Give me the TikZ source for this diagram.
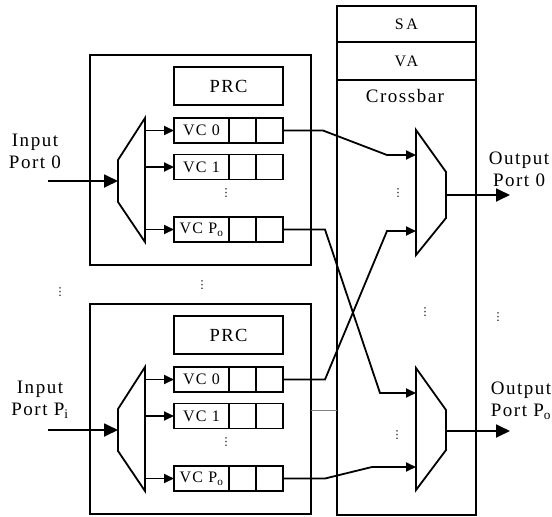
\documentclass[tikz,border=0pt]{standalone}
\usepackage{fontspec}
\setmainfont[LetterSpace=8]{Liberation Serif}
\newfontfamily\dotsfont{DejaVu Sans}
\newfontfamily\stagefont[LetterSpace=16]{Liberation Serif}
\usetikzlibrary{arrows.meta,positioning}

\begin{document}
\begin{tikzpicture}[x=1pt,y=-1pt]
		\tikzstyle{box}=[draw, line width=1.8pt, outer sep=0pt, inner sep=0pt]
		\tikzstyle{router}=[box, minimum width=221pt, minimum height=210pt]
		\tikzstyle{prc}=[box, minimum width=109pt, minimum height=38pt, font=\fontsize{18.5}{20}\selectfont]
		\tikzstyle{vc}=[box, minimum width=55pt, minimum height=25pt, font=\fontsize{16}{17}\selectfont]
		\tikzstyle{cell}=[box, minimum width=27pt, minimum height=25pt]
		\tikzstyle{stage}=[box, minimum width=139pt, font=\stagefont\fontsize{16}{17}\selectfont]
		\tikzstyle{mux}=[line width=1.8pt, line join=miter]
		\tikzstyle{link}=[line width=1.8pt, -{Triangle[length=14pt,width=13pt]}]
		\tikzstyle{wire}=[line width=1.8pt, -{Triangle[length=10pt,width=9pt]}]
		\tikzstyle{port_text}=[align=center, font=\fontsize{19}{22}\selectfont]
		\tikzstyle{dots}=[inner sep=0pt, font=\dotsfont\fontsize{11}{11}\selectfont]

		\useasboundingbox (0,0) rectangle (552,517);

		% input routers
		\foreach \r/\dy/\port/\px in {t/0/0/35, b/249/{P\textsubscript{i}}/40} {
			\begin{scope}[yshift=-\dy pt]
				\node [router] (\r rtr) at (200.5,160) {};
				\node [prc] (\r prc) at (228.5,86) {PRC};

				\node [vc] (\r vc0) at (201.5,130.5) {VC 0};
				\node [cell] (\r vc0a) [right=0pt of \r vc0] {};
				\node [cell] (\r vc0b) [right=0pt of \r vc0a] {};
				\node [vc] (\r vc1) at (201.5,167) {VC 1};
				\node [cell] (\r vc1a) [right=0pt of \r vc1] {};
				\node [cell] (\r vc1b) [right=0pt of \r vc1a] {};
				\node [vc] (\r vcp) at (201.5,229.5) {VC P\textsubscript{o}};
				\node [cell] (\r vcpa) [right=0pt of \r vcp] {};
				\node [cell] (\r vcpb) [right=0pt of \r vcpa] {};
				\node [dots] (\r vdots) at (226,193) {⋮};

				\coordinate (\r dm1) at (118,160);
				\coordinate (\r dm2) at (145,118);
				\coordinate (\r dm3) at (145,242);
				\coordinate (\r dm4) at (118,202);
				\draw [mux] (\r dm1) -- (\r dm2) -- (\r dm3) -- (\r dm4) -- cycle;

				\draw [wire] (\r vc0.west -| \r dm2) -- (\r vc0.west);
				\draw [wire] (\r vc1.west -| \r dm2) -- (\r vc1.west);
				\draw [wire] (\r vcp.west -| \r dm2) -- (\r vcp.west);

				\coordinate (\r in) at (48,181);
				\draw [link] (\r in) -- (\r in -| \r dm1);
				\node [port_text] (\r inlabel) at (\px,151) {Input\\Port \port};
			\end{scope}
		}
		\node [dots] (ldots) at (60,292) {⋮};
		\node [dots] (mdots) at (202,285) {⋮};

		% crossbar
		\node [box, minimum width=139pt, minimum height=509pt] (xbar) at (406.5,260.5) {};
		\node [stage, minimum height=36pt] (sa) at (406.5,24) {SA};
		\node [stage, minimum height=38pt] (va) [below=0pt of sa] {VA};
		\node [port_text] (xlabel) at (405,96) {Crossbar};

		\coordinate (m0a) at (416,130);
		\coordinate (m0b) at (446,172);
		\coordinate (m0c) at (446,218);
		\coordinate (m0d) at (416,255);
		\draw [mux] (m0a) -- (m0b) -- (m0c) -- (m0d) -- cycle;
		\coordinate (m1a) at (416,368);
		\coordinate (m1b) at (446,410);
		\coordinate (m1c) at (446,450);
		\coordinate (m1d) at (416,490);
		\draw [mux] (m1a) -- (m1b) -- (m1c) -- (m1d) -- cycle;

		\node [dots] (x0dots) at (398,193) {⋮};
		\node [dots] (x1dots) at (397,435) {⋮};
		\node [dots] (xmdots) at (425,312) {⋮};
		\node [dots] (rdots) at (498,317) {⋮};

		% outputs
		\coordinate (out0) at (510,195);
		\coordinate (out1) at (510,431);
		\draw [link] (m0b |- out0) -- (out0);
		\draw [link] (m1b |- out1) -- (out1);
		\node [port_text] (o0label) at (519,169) {Output\\Port 0};
		\node [port_text] (o1label) at (521,401) {Output\\Port P\textsubscript{o}};

		% links into the crossbar
		\draw [wire] (tvc0b.east) -- ++(40,0) -- (387,155) -- (m0a |- 0,155);
		\draw [wire] (tvcpb.east) -- ++(42,0) -- (380,393) -- (m1a |- 0,393);
		\draw [wire] (bvc0b.east) -- ++(42,0) -- (387,231) -- (m0a |- 0,231);
		\draw [wire] (bvcpb.east) -- ++(42,0) -- (372,467) -- (m1a |- 0,467);
		\draw [gray, line width=0.5pt] (brtr.east |- 0,410) -- (xbar.west |- 0,410);

	\end{tikzpicture}
\end{document}
